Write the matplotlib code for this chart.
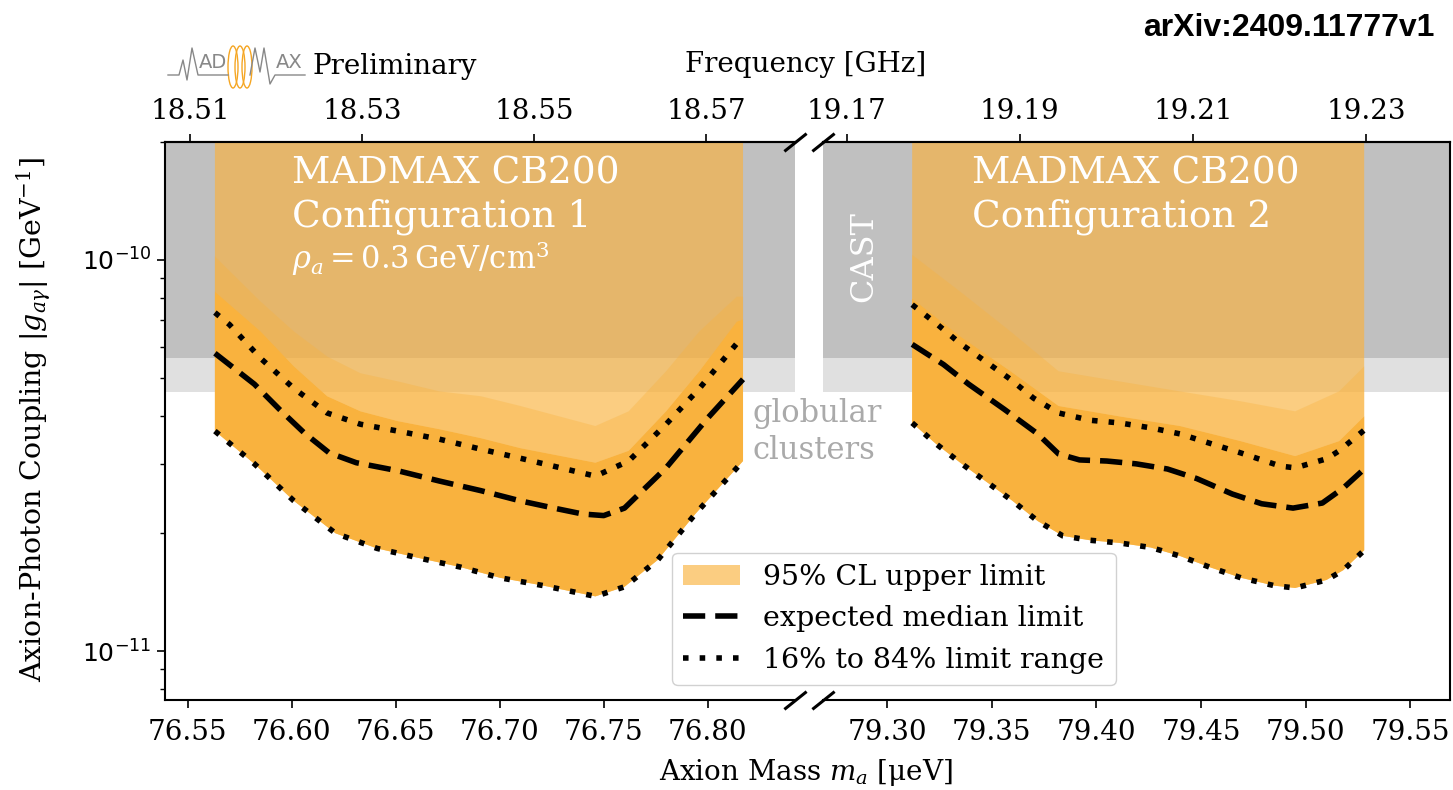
import numpy as np
import matplotlib
matplotlib.use("Agg")
import matplotlib.pyplot as plt
from matplotlib.lines import Line2D
from matplotlib.patches import Patch, Ellipse
from matplotlib.ticker import NullFormatter

plt.rcParams["font.family"] = "DejaVu Serif"
plt.rcParams["mathtext.fontset"] = "dejavuserif"
plt.rcParams["font.size"] = 20

# ---- data (coupling in units of 1e-11 GeV^-1, mass in ueV) ----
# configuration 1
m1_up = [76.563, 76.570, 76.585, 76.601, 76.617, 76.633, 76.651, 76.671, 76.691, 76.710, 76.746, 76.762, 76.780, 76.796, 76.814, 76.817]
g1_up = [7.33, 6.83, 5.60, 4.69, 4.06, 3.80, 3.65, 3.48, 3.28, 3.11, 2.80, 3.06, 3.80, 4.69, 6.11, 6.37]
m1_med = [76.563, 76.582, 76.594, 76.606, 76.618, 76.631, 76.651, 76.671, 76.691, 76.710, 76.726, 76.740, 76.750, 76.760, 76.780, 76.800, 76.817]
g1_med = [5.77, 4.81, 4.15, 3.61, 3.21, 3.03, 2.89, 2.72, 2.57, 2.42, 2.32, 2.24, 2.22, 2.32, 2.94, 3.94, 4.95]
m1_lo = [76.563, 76.582, 76.601, 76.621, 76.641, 76.661, 76.681, 76.700, 76.721, 76.746, 76.760, 76.776, 76.794, 76.817]
g1_lo = [3.65, 3.01, 2.42, 2.00, 1.83, 1.73, 1.64, 1.54, 1.47, 1.38, 1.46, 1.71, 2.24, 3.06]
# envelope of the measured (noisy) limit
m1_env = [76.563, 76.585, 76.601, 76.617, 76.633, 76.651, 76.671, 76.691, 76.710, 76.746, 76.762, 76.780, 76.796, 76.814, 76.817]
g1_dense = [8.29, 6.56, 5.34, 4.48, 4.10, 3.87, 3.69, 3.50, 3.30, 3.03, 3.25, 4.10, 5.19, 6.95, 7.04]
g1_spike = [10.2, 7.82, 6.56, 5.66, 5.13, 4.89, 4.61, 4.48, 4.23, 3.76, 4.10, 5.19, 6.56, 8.05, 8.05]

# configuration 2
m2_up = [79.312, 79.324, 79.335, 79.347, 79.359, 79.370, 79.382, 79.397, 79.411, 79.426, 79.440, 79.454, 79.469, 79.488, 79.495, 79.510, 79.516, 79.528]
g2_up = [7.68, 6.84, 6.11, 5.50, 4.95, 4.43, 4.06, 3.89, 3.83, 3.72, 3.59, 3.40, 3.21, 2.97, 2.94, 3.10, 3.25, 3.67]
m2_med = [79.312, 79.327, 79.339, 79.356, 79.372, 79.382, 79.392, 79.405, 79.419, 79.434, 79.448, 79.465, 79.479, 79.494, 79.508, 79.518, 79.528]
g2_med = [6.08, 5.40, 4.81, 4.15, 3.59, 3.19, 3.08, 3.06, 3.01, 2.92, 2.76, 2.52, 2.38, 2.32, 2.39, 2.61, 2.92]
m2_lo = [79.312, 79.323, 79.335, 79.347, 79.360, 79.372, 79.384, 79.397, 79.411, 79.426, 79.440, 79.454, 79.469, 79.485, 79.495, 79.510, 79.518, 79.528]
g2_lo = [3.83, 3.40, 3.03, 2.72, 2.42, 2.15, 1.97, 1.92, 1.89, 1.84, 1.75, 1.64, 1.54, 1.47, 1.45, 1.52, 1.61, 1.81]
m2_env = [79.312, 79.335, 79.359, 79.382, 79.411, 79.440, 79.469, 79.495, 79.516, 79.528]
g2_dense = [7.96, 6.37, 5.19, 4.23, 3.98, 3.76, 3.44, 3.15, 3.44, 3.98]
g2_spike = [10.3, 8.29, 6.56, 5.19, 4.89, 4.61, 4.35, 4.10, 4.61, 5.34]

cast_limit = 5.6e-11
gc_limit = 4.6e-11
ymin, ymax = 7.5e-12, 2.0e-10

yticks = [1e-11, 1e-10]
ticks1 = [76.55, 76.60, 76.65, 76.70, 76.75, 76.80]
ticks2 = [79.30, 79.35, 79.40, 79.45, 79.50, 79.55]
fticks1 = [18.51, 18.53, 18.55, 18.57]
fticks2 = [19.17, 19.19, 19.21, 19.23]

HC = 4.135667696  # ueV per GHz
ORANGE = "#f9b23e"
W, H = 1453, 790


def fx(px):
    return px / W


def fy(py):
    return 1 - py / H


def draw_config(ax, m_lo, g_lo, m_med, g_med, m_up, g_up, m_env, g_dense, g_spike):
    lo = np.array(g_lo) * 1e-11
    # light fill from the limit up to the top of the plot
    ax.fill(np.concatenate([m_lo, [m_lo[-1], m_lo[0]]]), np.concatenate([lo, [ymax, ymax]]),
            color=ORANGE, alpha=0.65, lw=0, zorder=1)
    # streaky part of the noisy limit
    ax.fill(np.concatenate([m_env, m_env[::-1]]),
            np.concatenate([np.array(g_dense) * 1e-11, np.array(g_spike)[::-1] * 1e-11]),
            color=ORANGE, alpha=0.35, lw=0, zorder=2)
    # dense part of the noisy limit
    ax.fill(np.concatenate([m_lo, m_env[::-1]]),
            np.concatenate([lo, np.array(g_dense)[::-1] * 1e-11]),
            color=ORANGE, lw=0, zorder=2)
    ax.plot(m_med, np.array(g_med) * 1e-11, color="k", lw=4, ls=(0, (4, 1.8)), zorder=4)
    ax.plot(m_up, np.array(g_up) * 1e-11, color="k", lw=4, ls=(0, (1, 2)), zorder=4)
    ax.plot(m_lo, lo, color="k", lw=4, ls=(0, (1, 2)), zorder=4)


fig = plt.figure(figsize=(W / 100, H / 100), dpi=100)
ax1 = fig.add_axes([fx(165), fy(700), fx(795 - 165), (700 - 142) / H])
ax2 = fig.add_axes([fx(823), fy(700), fx(1450 - 823), (700 - 142) / H], sharey=ax1)

for ax in (ax1, ax2):
    ax.set_yscale("log")
    ax.set_ylim(ymin, ymax)
    ax.axhspan(gc_limit, ymax, color="#e0e0e0", lw=0, zorder=0)
    ax.axhspan(cast_limit, ymax, color="#c0c0c0", lw=0, zorder=0)
    for s in ax.spines.values():
        s.set_linewidth(1.5)
    ax.tick_params(axis="x", direction="out", length=6, width=1.2, labelsize=20, pad=8)

ax1.set_xlim(76.539, 76.842)
ax2.set_xlim(79.2694, 79.569)
ax1.set_xticks(ticks1)
ax1.set_xticklabels([f"{t:.2f}" for t in ticks1])
ax2.set_xticks(ticks2)
ax2.set_xticklabels([f"{t:.2f}" for t in ticks2])

draw_config(ax1, m1_lo, g1_lo, m1_med, g1_med, m1_up, g1_up, m1_env, g1_dense, g1_spike)
draw_config(ax2, m2_lo, g2_lo, m2_med, g2_med, m2_up, g2_up, m2_env, g2_dense, g2_spike)

ax1.spines["right"].set_visible(False)
ax2.spines["left"].set_visible(False)
ax1.set_yticks(yticks)
ax1.set_ylim(ymin, ymax)
ax1.yaxis.set_minor_formatter(NullFormatter())
ax2.tick_params(axis="y", which="both", left=False, labelleft=False)
ax1.tick_params(axis="y", which="major", length=6, width=1.2, labelsize=18, labelfontfamily="DejaVu Sans")
ax1.tick_params(axis="y", which="minor", length=3.5, width=1.0)

# frequency axes on top
for ax, ft in ((ax1, fticks1), (ax2, fticks2)):
    sec = ax.secondary_xaxis("top", functions=(lambda m: m / HC, lambda f: f * HC))
    sec.set_xticks(ft)
    sec.set_xticklabels([f"{t:.2f}" for t in ft])
    sec.tick_params(direction="out", length=6, width=1.2, labelsize=20, pad=6)
    sec.spines["top"].set_linewidth(1.5)

# broken axis marks
kw = dict(marker=[(-1, -0.8), (1, 0.8)], markersize=16, linestyle="none", color="k",
          mec="k", mew=2.2, clip_on=False, zorder=10)
ax1.plot([1, 1], [0, 1], transform=ax1.transAxes, **kw)
ax2.plot([0, 0], [0, 1], transform=ax2.transAxes, **kw)

# labels
fig.text(fx(806), fy(773), r"Axion Mass $m_a$ [$\mathrm{\mu}$eV]", ha="center", va="center", fontsize=20)
fig.text(fx(806), fy(65), "Frequency [GHz]", ha="center", va="center", fontsize=20)
fig.text(fx(34), fy(420), r"Axion-Photon Coupling $|g_{a\gamma}|$ [GeV$^{-1}$]",
         rotation=90, ha="center", va="center", fontsize=20.5)

fig.text(fx(292), fy(156), "MADMAX CB200\nConfiguration 1", color="white", fontsize=27,
         ha="left", va="top", linespacing=1.22)
fig.text(fx(292), fy(258), r"$\rho_a = 0.3\,\mathrm{GeV/cm^3}$", color="white", fontsize=22,
         ha="left", va="center")
fig.text(fx(972), fy(156), "MADMAX CB200\nConfiguration 2", color="white", fontsize=27,
         ha="left", va="top", linespacing=1.22)
fig.text(fx(864), fy(257), "CAST", color="white", fontsize=23, rotation=90,
         ha="center", va="center")
fig.text(fx(752), fy(432), "globular\nclusters", color="#aaaaaa", fontsize=22,
         ha="left", va="center", linespacing=1.25)

fig.text(fx(313), fy(67), "Preliminary", fontsize=20, ha="left", va="center")
fig.text(fx(1435), fy(28), "arXiv:2409.11777v1", fontsize=23, fontweight="bold",
         family=["Liberation Sans Narrow", "Liberation Sans"], ha="right", va="center")

# MADMAX logo (rough sketch)
logo_l = [(168, 75), (179, 75), (183, 60), (187, 80), (192, 48), (198, 75), (228, 75)]
logo_r = [(250, 75), (255, 48), (260, 72), (264, 48), (270, 84), (275, 75), (305, 75)]
for pts in (logo_l, logo_r):
    xs = [fx(p[0]) for p in pts]
    ys = [fy(p[1]) for p in pts]
    fig.add_artist(Line2D(xs, ys, color="#888888", lw=1.0))
fig.text(fx(199), fy(63), "AD", color="#888888", fontsize=14, family="DejaVu Sans", ha="left", va="center")
fig.text(fx(276), fy(63), "AX", color="#888888", fontsize=14, family="DejaVu Sans", ha="left", va="center")
for cx in (233, 240, 247):
    fig.add_artist(Ellipse((fx(cx), fy(67)), fx(10), 42 / H, fill=False, ec="#f5a623", lw=1.0))

# legend
handles = [
    Patch(facecolor=ORANGE, alpha=0.65, edgecolor="none"),
    Line2D([], [], color="k", lw=4, ls=(0, (4, 1.8))),
    Line2D([], [], color="k", lw=4, ls=(0, (1, 2))),
]
labels = ["95% CL upper limit", "expected median limit", "16% to 84% limit range"]
fig.legend(handles, labels, loc="lower left", bbox_to_anchor=(fx(672), fy(685)),
           borderaxespad=0, fontsize=20.5, framealpha=0.9)

fig.savefig("out.png", dpi=100)
